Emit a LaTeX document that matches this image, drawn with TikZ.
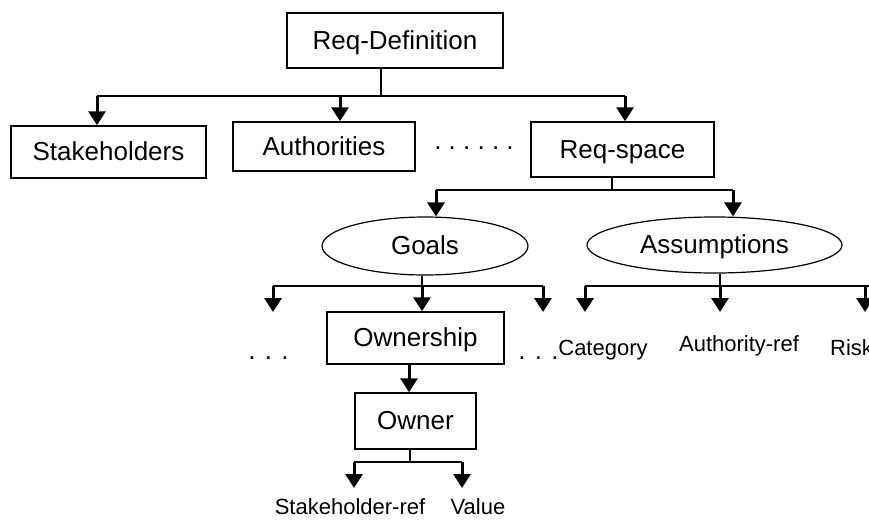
\documentclass[tikz,border=0pt]{standalone}
\usepackage{fontspec}
\setmainfont{Liberation Sans}
\usetikzlibrary{arrows.meta,shapes.geometric}
\begin{document}
\begin{tikzpicture}[x=1pt,y=-1pt,
  big/.style={font=\fontsize{26}{28}\selectfont},
  small/.style={font=\fontsize{22}{24}\selectfont, inner sep=0},
  box/.style={big, draw, line width=1.5pt, rectangle, inner sep=0, text height=17pt, text depth=0pt},
  oval/.style={big, draw, line width=1.2pt, ellipse, inner sep=0, text height=17pt, text depth=0pt},
  link/.style={line width=1.5pt},
  arr/.style={line width=3pt, -{Triangle[width=17pt,length=14pt]}},
  dots/.style={big, inner sep=0, anchor=base}]
\useasboundingbox (0,0) rectangle (869,519);
\clip (0,0) rectangle (869,519);
% nodes
\node[box, minimum width=216pt, minimum height=55pt] (rd) at (395,40.5) {Req-Definition};
\node[box, minimum width=195pt, minimum height=52pt] (sh) at (108.5,152) {Stakeholders};
\node[box, minimum width=182pt, minimum height=49pt] (au) at (324,146.5) {Authorities};
\node[box, minimum width=183pt, minimum height=55pt] (rs) at (622.5,149.5) {Req-space};
\node[oval, minimum width=206pt, minimum height=58pt] (go) at (425,246) {Goals};
\node[oval, minimum width=255pt, minimum height=56pt] (as) at (714.5,245) {Assumptions};
\node[box, minimum width=177pt, minimum height=52pt] (ow) at (415.5,338) {Ownership};
\node[box, minimum width=121pt, minimum height=56pt] (on) at (415.5,421) {Owner};
\node[dots] (d1) at (474,149) {.\hspace{7.2pt}.\hspace{7.2pt}.\hspace{7.2pt}.\hspace{7.2pt}.\hspace{7.2pt}.};
\node[dots] (d2) at (268.5,359.5) {.\hspace{9.3pt}.\hspace{9.3pt}.};
\node[dots] (d3) at (538.5,359.5) {.\hspace{9.3pt}.\hspace{9.3pt}.};
\node[small, anchor=base] (ca) at (603,355) {Category};
\node[small, anchor=base] (ar) at (739,351) {Authority-ref};
\node[small, anchor=base west] (ri) at (830,355) {Risk};
\node[small, anchor=base] (sr) at (350,514) {Stakeholder-ref};
\node[small, anchor=base] (va) at (478,514) {Value};
% level 1
\coordinate (j1) at (381,96);
\coordinate (l1) at (97,96);
\coordinate (m1) at (340,96);
\coordinate (r1) at (625,96);
\draw[link] (j1 |- rd.south) -- (j1);
\draw[link] (l1) -- (r1);
\draw[arr] (l1) -- (l1 |- sh.north);
\draw[arr] (m1) -- (m1 |- au.north);
\draw[arr] (r1) -- (r1 |- rs.north);
% level 2
\coordinate (j2) at (612,190);
\coordinate (l2) at (436,190);
\coordinate (r2) at (733,190);
\draw[link] (j2 |- rs.south) -- (j2);
\draw[link] (l2) -- (r2);
\draw[arr] (l2) -- (l2 |- go.north);
\draw[arr] (r2) -- (r2 |- as.north);
% goals children
\coordinate (j3) at (422,286);
\coordinate (l3) at (273,286);
\coordinate (r3) at (543,286);
\coordinate (l3e) at (273,312);
\coordinate (r3e) at (543,312);
\draw[link] (j3 |- go.south) -- (j3);
\draw[link] (l3) -- (r3);
\draw[arr] (l3) -- (l3e);
\draw[arr] (j3) -- (j3 |- ow.north);
\draw[arr] (r3) -- (r3e);
% assumptions children
\coordinate (j4) at (720,286);
\coordinate (l4) at (585,286);
\coordinate (r4) at (865,286);
\coordinate (r4x) at (875,286);
\draw[link] (j4 |- as.south) -- (j4);
\draw[link] (l4) -- (r4x);
\draw[arr] (l4) -- (l4 |- 0,312);
\draw[arr] (j4) -- (j4 |- 0,312);
\draw[arr] (r4) -- (r4 |- 0,312);
% ownership -> owner
\coordinate (j5) at (409,0);
\draw[arr] (j5 |- ow.south) -- (j5 |- on.north);
% owner children
\coordinate (j6) at (410,462);
\coordinate (l6) at (354,462);
\coordinate (r6) at (462,462);
\draw[link] (j6 |- on.south) -- (j6);
\draw[link] (l6) -- (r6);
\draw[arr] (l6) -- (l6 |- 0,488);
\draw[arr] (r6) -- (r6 |- 0,488);
\end{tikzpicture}
\end{document}
